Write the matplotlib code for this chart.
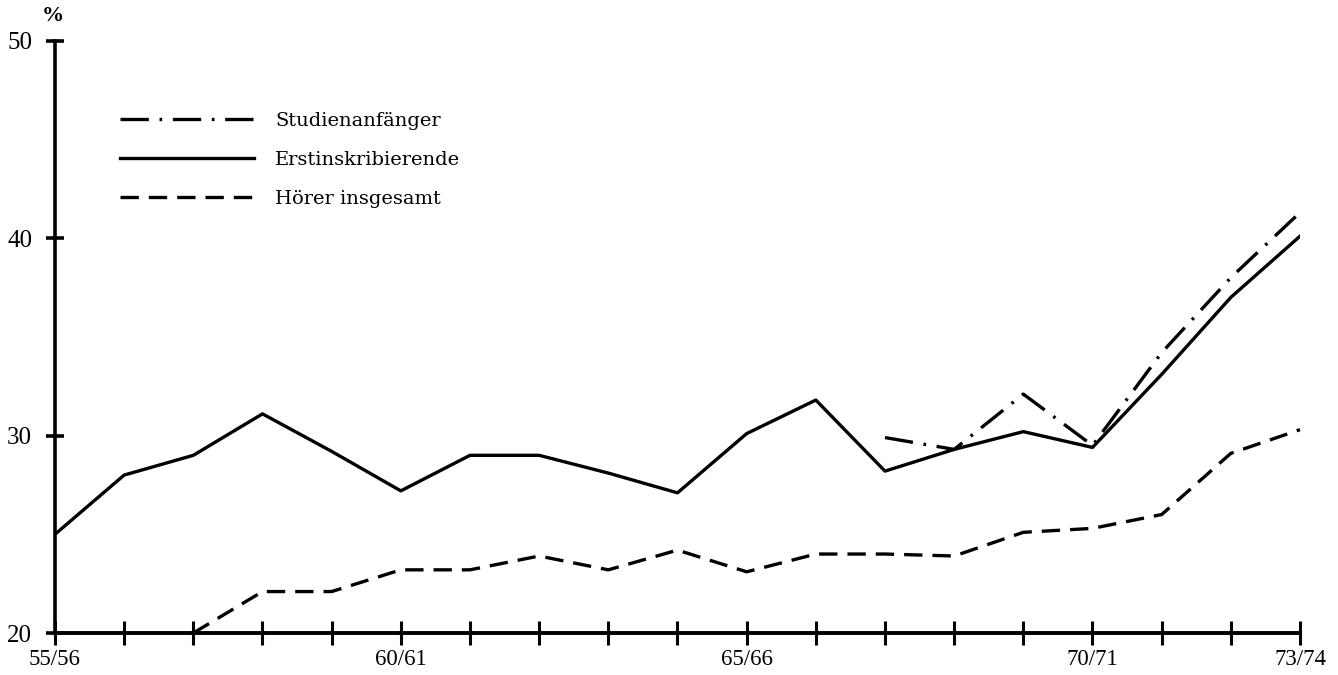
import matplotlib
matplotlib.use("Agg")
from matplotlib import pyplot as plt

# school years 55/56 .. 73/74
years = ["55/56", "56/57", "57/58", "58/59", "59/60", "60/61", "61/62", "62/63",
         "63/64", "64/65", "65/66", "66/67", "67/68", "68/69", "69/70", "70/71",
         "71/72", "72/73", "73/74"]
shown_labels = ["55/56", "60/61", "65/66", "70/71", "73/74"]

# Erstinskribierende (all years)
erstinskribierende = [25.0, 28.0, 29.0, 31.1, 29.2, 27.2, 29.0, 29.0, 28.1, 27.1,
                      30.1, 31.8, 28.2, 29.3, 30.2, 29.4, 33.1, 37.0, 40.1]

# Hoerer insgesamt (from 57/58)
hoerer_years = years[2:]
hoerer = [20.0, 22.1, 22.1, 23.2, 23.2, 23.9, 23.2, 24.2,
          23.1, 24.0, 24.0, 23.9, 25.1, 25.3, 26.0, 29.1, 30.3]

# Studienanfaenger (from 67/68)
anfaenger_years = years[12:]
anfaenger = [29.9, 29.3, 32.1, 29.5, 34.2, 38.0, 41.3]

fig = plt.figure(figsize=(13.38, 6.75), dpi=100)
ax = fig.add_axes([0.0411, 0.0622, 0.9305, 0.8775])

xs = list(range(len(years)))
pos = {y: i for i, y in enumerate(years)}

lw = 2.4
ax.plot([pos[y] for y in anfaenger_years], anfaenger, color="black", lw=lw,
        linestyle=(0, (8.5, 3.2, 0.8, 3.2)), label="Studienanfänger")
ax.plot(xs, erstinskribierende, color="black", lw=lw, label="Erstinskribierende")
ax.plot([pos[y] for y in hoerer_years], hoerer, color="black", lw=lw,
        linestyle=(0, (5.5, 3)), label="Hörer insgesamt", clip_on=False)

ax.set_xlim(0, len(years) - 1)
ax.set_ylim(20, 50)

for s in ["top", "right"]:
    ax.spines[s].set_visible(False)
ax.spines["left"].set_linewidth(2.6)
ax.spines["bottom"].set_linewidth(2.8)

ax.set_xticks(xs)
ax.set_xticklabels([y if y in shown_labels else "" for y in years],
                   family="Liberation Serif", fontsize=16.5)
ax.set_yticks([20, 30, 40, 50])
ax.set_yticklabels(["20", "30", "40", "50"], family="Liberation Serif", fontsize=18)
ax.tick_params(axis="x", direction="inout", length=17, width=2.2, pad=3)
ax.tick_params(axis="y", direction="inout", length=13, width=2.6, pad=10)

ax.text(-0.03, 50.75, "%", family="Liberation Serif", fontsize=16,
        ha="center", va="bottom", fontweight="bold")

leg = ax.legend(loc="upper left", bbox_to_anchor=(0.038, 0.91), frameon=False,
                prop={"family": "DejaVu Serif", "size": 14}, handlelength=6.9,
                labelspacing=1.1, handletextpad=1.1)

fig.savefig("out.png", dpi=100)
